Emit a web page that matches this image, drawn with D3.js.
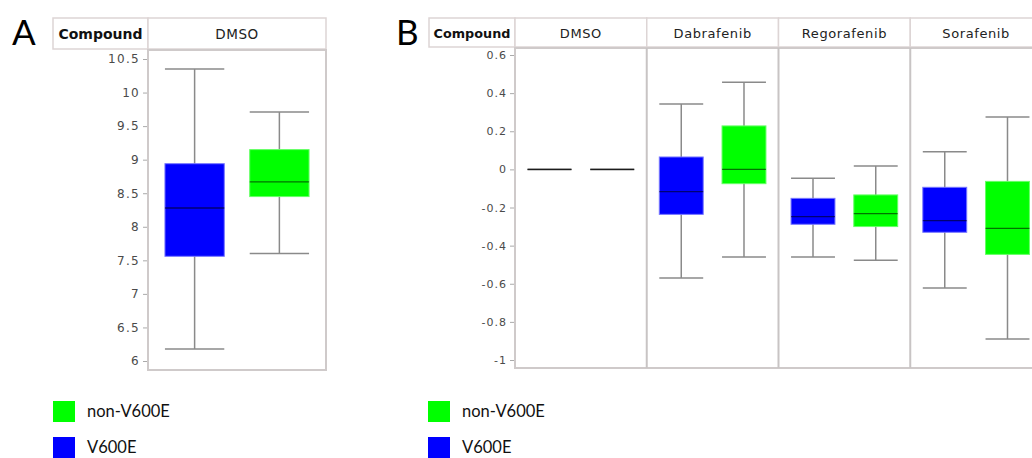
<!DOCTYPE html>
<html>
<head>
<meta charset="utf-8">
<script src="https://cdn.jsdelivr.net/npm/d3@7"></script>
<style>
	body { margin: 0; background: #fff; }
	svg { display: block; }
</style>
</head>
<body>
<svg id="chart" width="1032" height="458"></svg>
<script>
// values
const groups = ["V600E", "non-V600E"];
const groupColors = ["#0000ff", "#00ff00"];
const legendOrder = ["non-V600E", "V600E"];

const compoundsA = ["DMSO"];
const ticksA = [6, 6.5, 7, 7.5, 8, 8.5, 9, 9.5, 10, 10.5];
// compound, group, low whisker, q1, median, q3, high whisker
const statsA = [
	["DMSO", "V600E", 6.18, 7.56, 8.28, 8.94, 10.35],
	["DMSO", "non-V600E", 7.60, 8.45, 8.67, 9.15, 9.71]
];

const compoundsB = ["DMSO", "Dabrafenib", "Regorafenib", "Sorafenib"];
const ticksB = [-1, -0.8, -0.6, -0.4, -0.2, 0, 0.2, 0.4, 0.6];
const statsB = [
	["DMSO", "V600E", 0, 0, 0, 0, 0],
	["DMSO", "non-V600E", 0, 0, 0, 0, 0],
	["Dabrafenib", "V600E", -0.57, -0.236, -0.117, 0.065, 0.343],
	["Dabrafenib", "non-V600E", -0.46, -0.075, 0.0, 0.228, 0.457],
	["Regorafenib", "V600E", -0.46, -0.288, -0.248, -0.152, -0.047],
	["Regorafenib", "non-V600E", -0.477, -0.30, -0.232, -0.134, 0.018],
	["Sorafenib", "V600E", -0.622, -0.33, -0.269, -0.094, 0.093],
	["Sorafenib", "non-V600E", -0.89, -0.446, -0.309, -0.063, 0.275]
];

const svg = d3.select("#chart");
const color = d3.scaleOrdinal().domain(groups).range(groupColors);

function drawPanel(p) {
	const g = svg.append("g");

	const x = d3.scaleBand().domain(p.compounds).range([p.x0, p.x1]);
	const xi = d3.scaleBand().domain(groups).range([0, x.bandwidth()])
		.paddingInner(0.3).paddingOuter(0.2);
	const y = d3.scaleLinear().domain(p.domain).range(p.yRange);

	// header row
	g.append("rect")
		.attr("x", p.hx0).attr("y", p.hy0)
		.attr("width", p.x0 - p.hx0).attr("height", p.hy1 - p.hy0)
		.attr("fill", "#fff").attr("stroke", "#ddd5d5").attr("stroke-width", 1.5);
	g.append("text")
		.attr("x", (p.hx0 + p.x0) / 2).attr("y", (p.hy0 + p.hy1) / 2 + 5)
		.attr("text-anchor", "middle")
		.style("font-family", "DejaVu Sans").style("font-weight", "bold")
		.style("font-size", p.boldSize + "px").attr("fill", "#111")
		.text("Compound");

	g.selectAll(".hdr").data(p.compounds).enter().append("rect")
		.attr("x", d => x(d)).attr("y", p.hy0)
		.attr("width", x.bandwidth()).attr("height", p.hy1 - p.hy0)
		.attr("fill", "#fff").attr("stroke", "#ddd5d5").attr("stroke-width", 1.5);
	g.selectAll(".hdrText").data(p.compounds).enter().append("text")
		.attr("x", d => x(d) + x.bandwidth() / 2).attr("y", (p.hy0 + p.hy1) / 2 + 5)
		.attr("text-anchor", "middle")
		.style("font-family", "DejaVu Sans").style("font-size", p.hdrSize + "px")
		.style("letter-spacing", "0.6px").attr("fill", "#222")
		.text(d => d);

	// plot area
	g.append("rect")
		.attr("x", p.x0).attr("y", p.py0)
		.attr("width", p.x1 - p.x0).attr("height", p.py1 - p.py0)
		.attr("fill", "#fff").attr("stroke", "#cfcaca").attr("stroke-width", 2);
	g.selectAll(".sep").data(p.compounds.slice(1)).enter().append("line")
		.attr("x1", d => x(d)).attr("x2", d => x(d))
		.attr("y1", p.py0).attr("y2", p.py1)
		.attr("stroke", "#c8c4c4").attr("stroke-width", 2);

	// y axis
	const axis = g.append("g")
		.attr("transform", `translate(${p.x0 - 1},0)`)
		.call(d3.axisLeft(y).tickValues(p.ticks).tickSize(4).tickPadding(3).tickFormat(d => String(d)));
	axis.select(".domain").remove();
	axis.selectAll(".tick line").attr("stroke", "#aaa");
	axis.selectAll(".tick text")
		.style("font-family", "DejaVu Sans").style("font-size", p.tickSize + "px")
		.style("letter-spacing", p.tickSpacing + "px").attr("fill", "#4a4a4a");

	// boxes
	const rows = p.stats.map(r => ({
		compound: r[0], group: r[1], lo: r[2], q1: r[3], med: r[4], q3: r[5], hi: r[6]
	}));
	const box = g.selectAll(".box").data(rows).enter().append("g")
		.attr("transform", d => `translate(${x(d.compound) + xi(d.group)},0)`);
	const bw = xi.bandwidth();

	box.append("line")
		.attr("x1", bw / 2).attr("x2", bw / 2)
		.attr("y1", d => y(d.lo)).attr("y2", d => y(d.hi))
		.attr("stroke", "#8a8a8a").attr("stroke-width", 1.5);
	box.append("line")
		.attr("x1", 0).attr("x2", bw)
		.attr("y1", d => y(d.hi)).attr("y2", d => y(d.hi))
		.attr("stroke", "#8a8a8a").attr("stroke-width", 1.5);
	box.append("line")
		.attr("x1", 0).attr("x2", bw)
		.attr("y1", d => y(d.lo)).attr("y2", d => y(d.lo))
		.attr("stroke", "#8a8a8a").attr("stroke-width", 1.5);
	box.filter(d => d.q3 > d.q1).append("rect")
		.attr("x", 0).attr("width", bw)
		.attr("y", d => y(d.q3)).attr("height", d => y(d.q1) - y(d.q3))
		.attr("fill", d => color(d.group))
		.attr("stroke", d => d.group === "V600E" ? "#7777ff" : "#66ff66")
		.attr("stroke-width", 1);
	box.append("line")
		.attr("x1", 0).attr("x2", bw)
		.attr("y1", d => y(d.med)).attr("y2", d => y(d.med))
		.attr("stroke", "#000").attr("stroke-opacity", d => d.q3 > d.q1 ? 0.55 : 0.8)
		.attr("stroke-width", 1.3);

	// panel letter
	svg.append("text")
		.attr("x", p.letterX).attr("y", 45)
		.style("font-family", "Lato").style("font-size", "35px").attr("fill", "#000")
		.text(p.letter);

	// legend
	const leg = svg.append("g").attr("transform", `translate(${p.legX},401)`);
	const item = leg.selectAll("g").data(legendOrder).enter().append("g")
		.attr("transform", (d, i) => `translate(0,${i * 36})`);
	item.append("rect").attr("width", 22).attr("height", 21)
		.attr("fill", d => color(d));
	item.append("text").attr("x", 34).attr("y", 16)
		.style("font-family", "Lato").style("font-size", "16.5px").attr("fill", "#111")
		.text(d => d);
}

drawPanel({
	letter: "A", letterX: 12, legX: 53,
	compounds: compoundsA, stats: statsA, ticks: ticksA,
	domain: [6, 10.5], yRange: [361, 59],
	hx0: 53, hy0: 18, hy1: 49, x0: 148, x1: 326, py0: 50, py1: 370,
	boldSize: 14, hdrSize: 13.5, tickSize: 12, tickSpacing: 1.3
});

drawPanel({
	letter: "B", letterX: 396, legX: 428,
	compounds: compoundsB, stats: statsB, ticks: ticksB,
	domain: [-1, 0.6], yRange: [360, 55],
	hx0: 429, hy0: 18, hy1: 47, x0: 515, x1: 1042, py0: 48, py1: 368,
	boldSize: 12.8, hdrSize: 13, tickSize: 11, tickSpacing: 1
});
</script>
</body>
</html>
